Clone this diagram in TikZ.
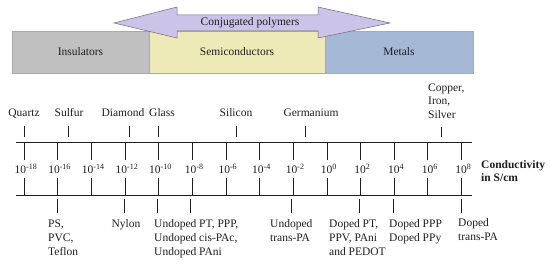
\documentclass[tikz,border=0pt]{standalone}
\usepackage{fontspec}
\setmainfont{Liberation Serif}
\usetikzlibrary{positioning}
\definecolor{Ink}{HTML}{1E1E1E}
\definecolor{Edge}{HTML}{A9A9B0}
\definecolor{InsulGray}{HTML}{C0C0C0}
\definecolor{SemiYellow}{HTML}{EEEAB7}
\definecolor{MetalBlue}{HTML}{A5B8D6}
\definecolor{ConjLilac}{HTML}{CBC4E8}
\definecolor{ConjEdge}{HTML}{6E6A80}

\begin{document}
\begin{tikzpicture}[x=1pt,y=-1pt,
      font=\fontsize{11.5}{13.5}\selectfont,color=Ink,
      band/.style={draw=Edge,minimum height=42pt,inner sep=0pt},
      axisline/.style={line width=0.9pt},
      tickline/.style={line width=0.7pt},
      toplab/.style={anchor=base,inner sep=0pt},
      lowlab/.style={anchor=north west,align=left,inner sep=0pt,
        font=\fontsize{11.5}{14}\selectfont},
      decade/.style={anchor=base,inner sep=0pt}
    ]
      \useasboundingbox (0,0) rectangle (550,280);
      % conductivity bands
      \node[band,fill=InsulGray,minimum width=137pt] (insul) at (80.5,52) {Insulators};
      \node[band,fill=SemiYellow,minimum width=176pt] (semi) at (237,52) {Semiconductors};
      \node[band,fill=MetalBlue,minimum width=148pt] (metal) at (399,52) {Metals};
      % double arrow over the bands
      \draw[draw=ConjEdge,line width=0.5pt,fill=ConjLilac]
        (114,23) -- (177,7) -- (177,15) -- (318,15) -- (318,7) -- (390,23)
        -- (318,38) -- (318,31) -- (177,31) -- (177,38) -- cycle;
      \node (conj) at (250,23) {Conjugated polymers};

      % the two axes
      \coordinate (upA) at (16,142);
      \coordinate (upB) at (472,142);
      \coordinate (loA) at (16,195);
      \coordinate (loB) at (472,195);
      \draw[axisline] (upA) -- (upB);
      \draw[axisline] (loA) -- (loB);

      % decades
      \foreach \e [count=\k from 0] in {-18,-16,...,8} {
        \coordinate (up\k) at (24+33.65*\k,142);
        \coordinate (lo\k) at (24+33.65*\k,195);
        \draw[tickline] (up\k) -- ++(0,18);
        \draw[tickline] (lo\k) -- ++(0,-17);
        \node[decade] (dec\k) at (26+33.65*\k,174) {10\textsuperscript{\e}};
      }
      \node[anchor=west,align=left,inner sep=0pt,font=\fontsize{11.5}{12.5}\selectfont\bfseries]
        (cond) at (481,171) {Conductivity\\in S/cm};

      % materials above the scale
      \foreach \nm/\tx/\lx/\txt in {quartz/24/24/Quartz,sulfur/68/69/Sulfur,
          diamond/129/123/Diamond,glass/158/162/Glass,silicon/236/236/Silicon,
          germanium/305/311/Germanium} {
        \node[toplab] (\nm) at (\lx,117) {\txt};
        \coordinate (\nm-tick) at (\tx,126);
        \draw[tickline] (\nm-tick) -- ++(0,11);
      }
      \node[anchor=south west,align=left,inner sep=0pt] (copper) at (428,118.5)
        {Copper,\\Iron,\\Silver};
      \coordinate (copper-tick) at (441,127);
      \draw[tickline] (copper-tick) -- ++(0,10);

      % materials below the scale
      \foreach \nm/\tx in {ps/57,nylon/124,undA/157,undB/190,tpa/291,
          dpt/359,dppp/393,dtpa/461} {
        \coordinate (\nm-tick) at (\tx,199);
        \draw[tickline] (\nm-tick) -- ++(0,14);
      }
      \node[lowlab] (ps) at (48,219.5) {PS,\\PVC,\\Teflon};
      \node[lowlab,anchor=north] (nylon) at (126,219.5) {Nylon};
      \node[lowlab] (undoped) at (154,219.5) {Undoped PT, PPP,\\Undoped cis-PAc,\\Undoped PAni};
      \node[lowlab] (transpa) at (270,219.5) {Undoped\\trans-PA};
      \node[lowlab] (dopedpt) at (329,219.5) {Doped PT,\\PPV, PAni\\and PEDOT};
      \node[lowlab] (dopedppp) at (389,219.5) {Doped PPP\\Doped PPy};
      \node[lowlab] (dopedtpa) at (458,218.5) {Doped\\trans-PA};
    \end{tikzpicture}
\end{document}
